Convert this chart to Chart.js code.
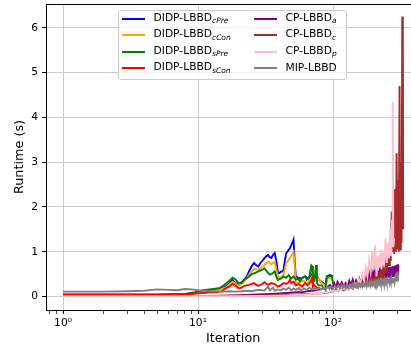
<!DOCTYPE html>
<html>
<head>
<meta charset="utf-8">
<script src="https://cdn.jsdelivr.net/npm/chart.js@4.4.0/dist/chart.umd.min.js"></script>
<style>
html, body { margin: 0; padding: 0; background: #fff; overflow: hidden; width: 411px; height: 354px; }
#wrap { position: absolute; left: 0; top: 0; width: 425px; height: 354px; }
#legend { position: absolute; left: 118px; top: 10px; width: 229px; height: 70px; box-sizing: border-box;
  border: 1px solid #cccccc; border-radius: 3px; background: rgba(255,255,255,0.8);
  font-family: 'DejaVu Sans'; font-size: 10.7px; color: #000; }
.sw { position: absolute; height: 2px; width: 23px; }
.lbl { position: absolute; line-height: 10.7px; white-space: nowrap; transform: translateY(-50%); }
.lbl i { font-size: 70%; position: relative; top: 0.35em; }
</style>
</head>
<body>
<div id="wrap"><canvas id="chart"></canvas></div>
<div id="legend"></div>
<script>
// values (iteration, runtime in s)
const cPreIter = [1,3,5,8,10,12,14,15,16,17,18,19,20,21,22,23,24,25,26,27,28,29,30,31,32,33,34,35,36,37,38,39,40,41,42,43,44,45,46,47,48,49,50,51,52,53,55,58,62,66,70,72,76,80,85,88,90,95,100];
const cPreTime = [0.04,0.04,0.04,0.05,0.08,0.12,0.16,0.19,0.22,0.30,0.37,0.30,0.26,0.32,0.37,0.45,0.58,0.68,0.75,0.70,0.67,0.75,0.80,0.85,0.90,0.93,0.88,0.86,0.93,0.97,0.80,0.55,0.52,0.55,0.56,0.60,0.80,0.97,1.00,1.05,1.08,1.15,1.20,1.27,0.80,0.45,0.42,0.40,0.45,0.40,0.50,0.42,0.45,0.35,0.30,0.25,0.45,0.48,0.45];

const cConIter = [1,3,5,8,10,12,14,16,18,20,22,24,26,28,30,31,33,35,37,39,41,43,45,47,49,51,52,53,56,60,65,70,73,78,82,88,92,100];
const cConTime = [0.04,0.04,0.04,0.05,0.08,0.11,0.15,0.20,0.33,0.24,0.33,0.50,0.62,0.60,0.67,0.70,0.78,0.72,0.78,0.45,0.42,0.49,0.75,0.82,0.90,1.00,0.70,0.30,0.32,0.35,0.30,0.45,0.35,0.40,0.30,0.25,0.42,0.40];

const sPreIter = [1,3,5,8,9.5,11,13,14.5,16,17,18,19,20,21,22,23,25,26,28,30,31,32,34,35,37,38,39,41,43,45,47,49,51,53,55,57,59,62,64,67,69,70,71,73,75,76,78,82,86,88,90,95,98,100,103];
const sPreTime = [0.04,0.04,0.04,0.06,0.10,0.14,0.17,0.19,0.28,0.35,0.42,0.38,0.30,0.30,0.38,0.41,0.50,0.52,0.56,0.60,0.63,0.58,0.49,0.50,0.56,0.45,0.37,0.40,0.45,0.42,0.48,0.40,0.45,0.38,0.40,0.34,0.42,0.45,0.38,0.45,0.70,0.68,0.30,0.40,0.71,0.30,0.25,0.25,0.20,0.15,0.45,0.45,0.45,0.30,0.30];

const sConIter = [1,3,5,8,10,12,14,15,16,17,18,19,20,21,22,24,26,27,28,30,31,33,35,37,39,41,43,45,47,48,49,51,53,56,59,62,65,68,70,71,73,76,80];
const sConTime = [0.04,0.04,0.04,0.05,0.07,0.09,0.10,0.12,0.18,0.22,0.28,0.24,0.18,0.20,0.24,0.26,0.30,0.26,0.24,0.28,0.32,0.26,0.30,0.28,0.22,0.25,0.30,0.28,0.32,0.38,0.30,0.33,0.25,0.28,0.22,0.30,0.25,0.32,0.40,0.22,0.25,0.20,0.18];

const aIter = [1,5,10,15,20,25,30,35,40,45,50,55,60,65,70,75,80,85,90,95,98,102,105,108,112,116,120,124,128,132,136,140,144,148,152,156,160,164,168,172,176,
  180,183,186,189,192,195,198,201,204,207,210,213,216,219,222,225,228,231,234,237,240,243,246,249,252,255,258,261,264,267,270,273,276,279,282,285,288,291,294,297,300,303,305];
const aTime = [0.01,0.01,0.01,0.02,0.03,0.04,0.05,0.06,0.07,0.08,0.09,0.10,0.10,0.12,0.13,0.14,0.16,0.18,0.20,0.26,0.18,0.30,0.20,0.33,0.22,0.32,0.22,0.30,0.20,0.35,0.25,0.38,0.26,0.36,0.25,0.40,0.30,0.42,0.30,0.45,0.32,
  0.50,0.36,0.52,0.37,0.53,0.38,0.52,0.37,0.55,0.39,0.56,0.38,0.58,0.40,0.57,0.41,0.60,0.40,0.61,0.42,0.60,0.43,0.63,0.42,0.64,0.44,0.65,0.43,0.66,0.45,0.65,0.44,0.68,0.46,0.67,0.45,0.69,0.47,0.70,0.46,0.72,0.48,0.71];

const cIter = [1,10,20,30,40,50,60,70,80,90,95,100,105,110,115,120,125,130,135,140,145,150,155,160,165,170,175,180,185,190,195,200,205,210,215,220,225,230,235,240,245,250,255,260,264,268,272,276,280,284,288,292,296,300,304,307,311,314,318,322,326,329,331];
const cTime = [0.01,0.01,0.02,0.02,0.03,0.04,0.05,0.06,0.07,0.09,0.10,0.12,0.15,0.13,0.17,0.14,0.19,0.16,0.22,0.18,0.25,0.20,0.27,0.22,0.30,0.25,0.33,0.27,0.36,0.30,0.40,0.32,0.45,0.35,0.50,0.38,0.55,0.42,0.62,0.48,0.75,0.55,0.95,0.70,1.40,0.80,1.90,1.00,1.50,0.95,2.40,1.00,3.20,1.05,2.60,1.00,4.70,1.05,3.00,1.20,6.25,6.10,1.50];

const pIter = [1,20,40,60,80,100,110,120,128,135,140,145,150,155,160,165,170,175,180,185,190,195,200,205,210,215,220,225,230,235,240,245,250,255,260,265,270,274,277,280,284];
const pTime = [0.01,0.01,0.02,0.04,0.07,0.12,0.14,0.18,0.15,0.25,0.20,0.30,0.22,0.40,0.28,0.50,0.35,0.65,0.45,0.80,0.55,1.00,0.60,1.15,0.45,0.90,0.65,1.05,0.70,0.95,0.80,1.30,0.75,1.20,0.85,1.50,0.90,1.70,4.35,1.10,1.30];

const mipIter = [1,2,3,4,5,6,7,8,9,10,11,12,13,15,17,19,21,23,25,27,29,31,33,34,36,37,39,41,43,45,47,49,51,53,56,58,61,64,67,70,73,76,79,82,85,88,91,94,97,100,
  103,106,109,112,115,118,121,124,127,130,133,136,139,142,145,148,151,154,157,160,163,166,169,172,175,178,181,184,187,190,193,196,199,202,205,208,211,214,217,220,
  223,226,229,232,235,238,241,244,247,250,253,256,259,262,265,268,271,274,277,280,283,286,289,292,295,298,300,302,304];
const mipTime = [0.11,0.11,0.12,0.13,0.16,0.15,0.14,0.17,0.16,0.14,0.13,0.12,0.12,0.11,0.12,0.11,0.12,0.13,0.12,0.14,0.15,0.13,0.22,0.14,0.20,0.13,0.16,0.14,0.18,0.15,0.20,0.14,0.18,0.15,0.19,0.14,0.18,0.15,0.20,0.16,0.19,0.15,0.20,0.16,0.21,0.17,0.22,0.17,0.23,0.18,
  0.24,0.18,0.25,0.19,0.26,0.20,0.25,0.19,0.27,0.20,0.26,0.21,0.28,0.20,0.27,0.22,0.29,0.21,0.28,0.23,0.30,0.22,0.29,0.24,0.31,0.23,0.30,0.25,0.32,0.24,0.33,0.26,0.32,0.25,0.34,0.27,0.33,0.26,0.35,0.28,
  0.34,0.27,0.36,0.29,0.35,0.28,0.37,0.30,0.36,0.29,0.38,0.31,0.39,0.30,0.38,0.32,0.40,0.31,0.41,0.33,0.40,0.32,0.42,0.34,0.43,0.35,0.45,0.56,0.35];

const seriesIters = [cPreIter, cConIter, sPreIter, sConIter, aIter, cIter, pIter, mipIter];
const seriesTimes = [cPreTime, cConTime, sPreTime, sConTime, aTime, cTime, pTime, mipTime];
const seriesNames = ['DIDP-LBBD', 'DIDP-LBBD', 'DIDP-LBBD', 'DIDP-LBBD', 'CP-LBBD', 'CP-LBBD', 'CP-LBBD', 'MIP-LBBD'];
const seriesSubs = ['cPre', 'cCon', 'sPre', 'sCon', 'a', 'c', 'p', ''];
const seriesColors = ['#0000ff', '#ffa500', '#008000', '#ff0000', '#800080', '#a52a2a', '#ffc0cb', '#808080'];

const xMajorTicks = [1, 10, 100];
const xTickLabels = ['10⁰', '10¹', '10²'];
const yTicks = [0, 1, 2, 3, 4, 5, 6];

const xMin = 0.748, xMax = 444;
const yMin = -0.3, yMax = 6.53;
const gridColor = '#cccccc';

Chart.defaults.font.family = 'DejaVu Sans';
Chart.defaults.color = '#000';

function toPoints(iters, times) {
    return iters.map((it, i) => ({ x: it, y: times[i] }));
}

// major ticks at the decades, minor ticks at 2..9 of each decade
function buildXTicks() {
    const ticks = [];
    [0.1, 1, 10, 100].forEach(dec => {
        for (let k = 1; k <= 9; k++) {
            const v = Math.round(dec * k * 10) / 10;
            if (v >= xMin && v <= xMax) ticks.push({ value: v, major: xMajorTicks.includes(v) });
        }
    });
    return ticks;
}

// no extra room for edge labels, the plot box is fixed
function noEdgePadding(s) {
    s.paddingTop = 0;
    s.paddingBottom = 0;
    s.paddingLeft = 0;
    s.paddingRight = 0;
}

const topSpine = {
    id: 'topSpine',
    afterDraw(chart) {
        const { ctx, chartArea: a } = chart;
        ctx.save();
        ctx.strokeStyle = '#000';
        ctx.lineWidth = 1;
        ctx.beginPath();
        ctx.moveTo(a.left, a.top + 0.5);
        ctx.lineTo(a.right, a.top + 0.5);
        ctx.stroke();
        ctx.restore();
    }
};

const ctx = document.getElementById('chart').getContext('2d');
const chart = new Chart(ctx, {
    type: 'line',
    data: {
        datasets: seriesIters.map((iters, i) => ({
            label: seriesNames[i] + seriesSubs[i],
            data: toPoints(iters, seriesTimes[i]),
            borderColor: seriesColors[i],
            backgroundColor: seriesColors[i],
            borderWidth: 1.9,
            pointRadius: 0,
            tension: 0,
            fill: false,
            // later series are painted over earlier ones
            order: seriesIters.length - i
        }))
    },
    options: {
        responsive: true,
        maintainAspectRatio: false,
        animation: false,
        layout: { padding: { top: 4, right: 4.6, left: 0, bottom: 0 } },
        plugins: {
            legend: { display: false },
            tooltip: { enabled: false }
        },
        scales: {
            x: {
                type: 'logarithmic',
                min: xMin,
                max: xMax,
                bounds: 'data',
                afterBuildTicks: s => { s.ticks = buildXTicks(); },
                afterFit: s => { s.height = 44; noEdgePadding(s); },
                ticks: {
                    autoSkip: false,
                    maxRotation: 0,
                    padding: 3,
                    font: { size: 10.7 },
                    color: '#000',
                    callback: function(value) {
                        const idx = xMajorTicks.indexOf(value);
                        return idx >= 0 ? xTickLabels[idx] : '';
                    }
                },
                grid: {
                    color: c => (c.tick && c.tick.major) ? gridColor : 'rgba(0,0,0,0)',
                    tickColor: '#000',
                    tickLength: 4,
                    tickWidth: c => (c.tick && c.tick.major) ? 1 : 0.7
                },
                border: { display: true, color: '#000', width: 1 },
                title: {
                    display: true,
                    text: 'Iteration',
                    color: '#000',
                    font: { size: 12.8 },
                    padding: { top: 0, bottom: 7.5 }
                }
            },
            y: {
                type: 'linear',
                min: yMin,
                max: yMax,
                bounds: 'data',
                afterBuildTicks: s => { s.ticks = yTicks.map(v => ({ value: v })); },
                afterFit: s => { s.width = 46; noEdgePadding(s); },
                ticks: { padding: 4, font: { size: 10.7 }, color: '#000' },
                grid: { color: gridColor, tickColor: '#000', tickLength: 4 },
                border: { display: true, color: '#000', width: 1 },
                title: {
                    display: true,
                    text: 'Runtime (s)',
                    color: '#000',
                    font: { size: 12.8 },
                    padding: { top: 12.3, bottom: 0 }
                }
            }
        }
    },
    plugins: [topSpine]
});

// legend in two columns, with subscripts as real text
const legend = document.getElementById('legend');
chart.data.datasets.forEach((ds, i) => {
    const col = i < 4 ? 0 : 1;
    const row = i % 4;
    const y = 7.5 + row * 16.5;
    const sw = document.createElement('div');
    sw.className = 'sw';
    sw.style.left = (col === 0 ? 3 : 135) + 'px';
    sw.style.top = Math.round(y - 1) + 'px';
    sw.style.background = seriesColors[i];
    legend.appendChild(sw);
    const lbl = document.createElement('div');
    lbl.className = 'lbl';
    lbl.style.left = (col === 0 ? 34.5 : 166.5) + 'px';
    lbl.style.top = y + 'px';
    lbl.textContent = seriesNames[i];
    if (seriesSubs[i]) {
        const sub = document.createElement('i');
        sub.textContent = seriesSubs[i];
        lbl.appendChild(sub);
    }
    legend.appendChild(lbl);
});
</script>
</body>
</html>
